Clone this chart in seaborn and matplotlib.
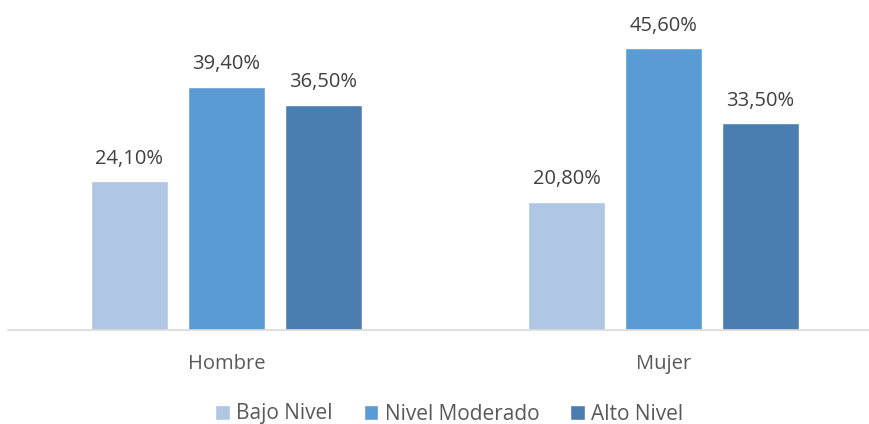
import pandas as pd
import matplotlib.pyplot as plt
import seaborn as sns

# datos
sexo = ["Hombre", "Mujer"]
niveles = ["Bajo Nivel", "Nivel Moderado", "Alto Nivel"]
bajo = [24.1, 20.8]
moderado = [39.4, 45.6]
alto = [36.5, 33.5]
colores = ["#AFC6E5", "#5B9BD5", "#4A7EB0"]

df = pd.DataFrame({
    "sexo": sexo * 3,
    "nivel": [n for n in niveles for _ in sexo],
    "valor": bajo + moderado + alto,
})

sns.set_style("white")
plt.rcParams['font.family'] = ['Open Sans', 'DejaVu Sans']

fig = plt.figure(figsize=(8.69, 4.24), dpi=100)
ax = fig.add_axes([8 / 869, 94 / 424, 874 / 869, 320 / 424])

sns.barplot(data=df, x="sexo", y="valor", hue="nivel", hue_order=niveles,
            palette=colores, width=0.666, gap=0.216, saturation=1,
            ax=ax, legend=True)

for cont in ax.containers:
    ax.bar_label(cont, labels=[f"{v:.2f}%".replace(".", ",") for v in cont.datavalues],
                 padding=9, fontsize=14.5, color="#404040")

ax.set_ylim(0, 51.8)
ax.set_xlim(-0.5, 1.5)
ax.set_xlabel("")
ax.set_ylabel("")
ax.set_yticks([])
ax.tick_params(axis="x", length=0, pad=17, labelsize=14.5, labelcolor="#595959")
for s in ["top", "right", "left"]:
    ax.spines[s].set_visible(False)
ax.spines["bottom"].set_color("#D9D9D9")
ax.spines["bottom"].set_linewidth(1.2)

handles, labels = ax.get_legend_handles_labels()
ax.get_legend().remove()
fig.legend(handles, labels, loc="center", bbox_to_anchor=(0.517, 10 / 424),
           ncol=3, frameon=False, fontsize=15, handlelength=0.7, handleheight=0.7,
           handletextpad=0.3, columnspacing=1.5, labelcolor="#595959")

fig.savefig("out.png", dpi=100)
